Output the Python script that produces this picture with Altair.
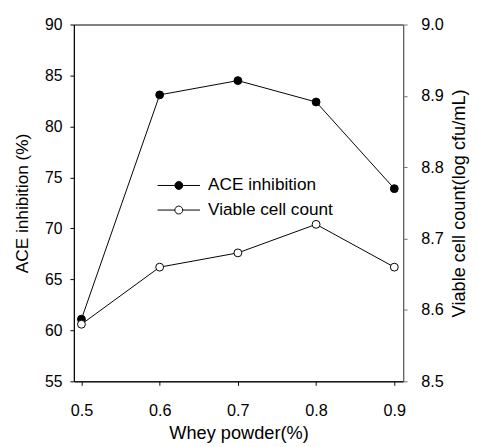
import altair as alt
import pandas as pd

whey = [0.5, 0.6, 0.7, 0.8, 0.9]
ace = [61.1, 83.1, 84.5, 82.4, 73.9]
viable = [8.58, 8.66, 8.68, 8.72, 8.66]
series = ["ACE inhibition", "Viable cell count"]
ace_ticks = [55, 60, 65, 70, 75, 80, 85, 90]
viable_ticks = [8.5, 8.6, 8.7, 8.8, 8.9, 9.0]

ace_df = pd.DataFrame({"whey": whey, "value": ace, "series": series[0]})
via_df = pd.DataFrame({"whey": whey, "value": viable, "series": series[1]})

FONT = "Liberation Sans"

x_enc = alt.X(
    "whey:Q",
    scale=alt.Scale(domain=[0.4903, 0.9113], nice=False, zero=False),
    axis=alt.Axis(
        values=whey, format=".1f", title="Whey powder(%)",
        titleBaseline="alphabetic", titleY=58, titleFontSize=18.5,
        labelPadding=18, labelFontSize=16.5,
    ),
)

fill_enc = alt.Fill(
    "series:N",
    scale=alt.Scale(domain=series, range=["black", "white"]),
    legend=alt.Legend(
        title=None,
        orient="none",
        legendX=98,
        legendY=155,
        symbolType="M-5.4,0H-1M1,0A1,1,0,1,1,-1,0A1,1,0,1,1,1,0ZM1,0H5.4",
        symbolSize=64,
        symbolStrokeColor="black",
        symbolStrokeWidth=1,
        symbolOpacity=1,
        labelFontSize=17.5,
        labelFont=FONT,
        labelColor="black",
        labelOffset=21,
        rowPadding=6,
        padding=0,
    ),
)

ace_y = alt.Y(
    "value:Q",
    scale=alt.Scale(domain=[55, 90], nice=False, zero=False),
    axis=alt.Axis(
        values=ace_ticks, title="ACE inhibition (%)", titleAngle=270,
        titleBaseline="alphabetic", titleX=-47, titleFontSize=17.5,
        labelPadding=8,
    ),
)
via_y = alt.Y(
    "value:Q",
    scale=alt.Scale(domain=[8.5, 9.0], nice=False, zero=False),
    axis=alt.Axis(
        orient="right", values=viable_ticks, format=".1f",
        title="Viable cell count(log cfu/mL)", titleAngle=270,
        titleBaseline="alphabetic", titleX=62, titleFontSize=18.5,
        labelPadding=14, labelFontSize=16.5,
        domainColor="#707070", tickColor="#707070",
    ),
)

def layer_for(df, y):
    base = alt.Chart(df).encode(x=x_enc, y=y)
    line = base.mark_line(color="black", strokeWidth=1)
    pts = base.mark_point(shape="circle", size=64, filled=True, stroke="black",
                          strokeWidth=1, opacity=1).encode(fill=fill_enc)
    return alt.layer(line, pts)

chart = alt.layer(layer_for(ace_df, ace_y), layer_for(via_df, via_y)).resolve_scale(
    y="independent"
).properties(
    width=335, height=363,
    background="white",
    autosize=alt.AutoSizeParams(type="none"),
    padding={"left": 67, "top": 13, "right": 68, "bottom": 63},
).configure_axis(
    grid=False, domainColor="black", tickColor="black", tickSize=4,
    labelFont=FONT, titleFont=FONT, labelFontSize=16, labelColor="black",
    titleColor="black", titleFontWeight="normal", domainWidth=1, tickWidth=1,
).configure_view(
    stroke="black", strokeWidth=1,
)

chart.save("out.html", embed_options={"renderer": "svg", "actions": False})
